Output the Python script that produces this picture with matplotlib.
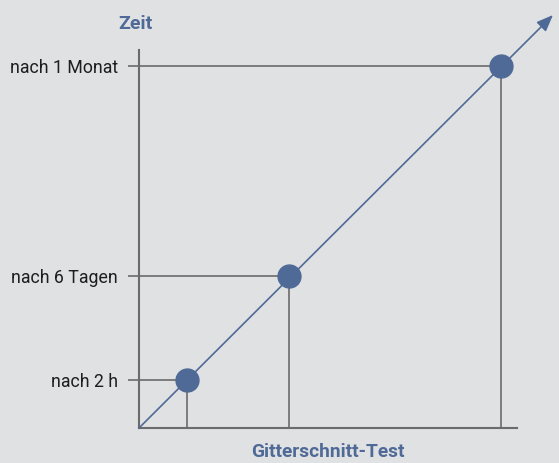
import matplotlib
matplotlib.use("Agg")
import matplotlib.pyplot as plt

# Data (arbitrary units)
x_vals = [0.48, 1.50, 3.62]
y_vals = [0.48, 1.52, 3.62]
tick_labels = ["nach 2 h", "nach 6 Tagen", "nach 1 Monat"]
x_title = "Gitterschnitt-Test"
y_title = "Zeit"
arrow_end = (4.14, 4.13)

BG = "#e0e1e3"
BLUE = "#4f6a96"
GREY = "#6b6b6b"

plt.rcParams['font.family'] = ['Roboto', 'DejaVu Sans']

fig = plt.figure(figsize=(5.59, 4.63), dpi=100, facecolor=BG)
W, H = 559, 463
ox, oy = 139, 428
ax = fig.add_axes([ox / W, (H - oy) / H, (W - ox) / W, oy / H])
ax.set_facecolor(BG)
ax.set_xlim(0, (W - ox) / 100)
ax.set_ylim(0, oy / 100)

for s in ["top", "right"]:
    ax.spines[s].set_visible(False)
for s in ["left", "bottom"]:
    ax.spines[s].set_color(GREY)
    ax.spines[s].set_linewidth(1.5)
    ax.spines[s].set_bounds(0, 3.78)

ax.set_xticks([])
ax.set_yticks(y_vals)
ax.set_yticklabels(tick_labels, fontsize=12.8, color="#1e1e1e")
ax.tick_params(axis="y", length=8, width=1.2, color=GREY, pad=7)

# guide lines
for xv, yv in zip(x_vals, y_vals):
    ax.plot([0, xv], [yv, yv], color=GREY, lw=1.2, zorder=2, clip_on=False)
    ax.plot([xv, xv], [0, yv], color=GREY, lw=1.2, zorder=2, clip_on=False)

# diagonal arrow
ax.annotate("", xy=arrow_end, xytext=(0, 0),
            arrowprops=dict(arrowstyle="-|>,head_length=1.0,head_width=0.4",
                            color=BLUE, lw=1.2, shrinkA=0, shrinkB=0),
            annotation_clip=False, zorder=3)

ax.plot(x_vals, y_vals, "o", ms=16.5, color=BLUE, zorder=4, clip_on=False)

fig.text(135 / W, 1 - 24 / H, y_title, ha="center", va="center",
         fontsize=14, fontweight="bold", color=BLUE)
fig.text(328 / W, 1 - 452 / H, x_title, ha="center", va="center",
         fontsize=13.8, fontweight="bold", color=BLUE)

fig.savefig("out.png", dpi=100, facecolor=BG)
